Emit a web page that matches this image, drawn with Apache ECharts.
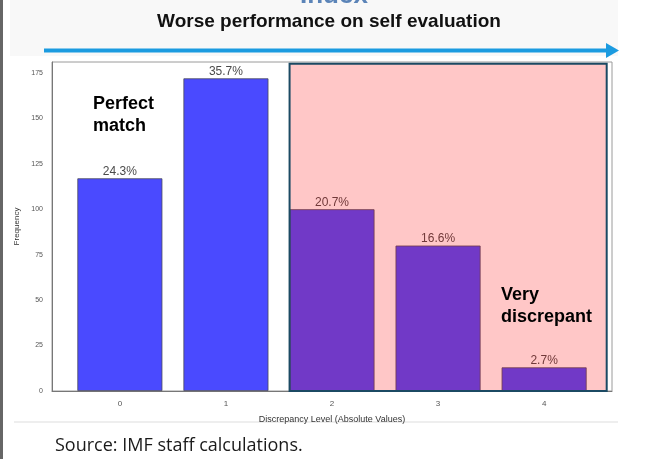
<!DOCTYPE html>
<html>
<head>
    <meta charset="utf-8">
    <title>Discrepancy</title>
    <script src="https://cdn.jsdelivr.net/npm/echarts@6/dist/echarts.min.js"></script>
</head>
<body>
<style>
    html, body, #main {
        width: 100%;
        height: 100%;
        padding: 0;
        margin: 0;
        background: #fff;
    }
</style>
<div id="main"></div>
<script type="text/javascript">

    // data
    var levels = [0, 1, 2, 3, 4];
    var frequency = [117, 172, 100, 80, 13];
    var shares = ['24.3%', '35.7%', '20.7%', '16.6%', '2.7%'];
    var yTicks = [0, 25, 50, 75, 100, 125, 150, 175];

    var myChart = echarts.init(document.getElementById('main'));

    var barData = levels.map(function (lv, i) {
        return {value: [lv, frequency[i]], label: {formatter: shares[i]}};
    });

    myChart.setOption({
        animation: false,
        grid: {
            left: 52, right: 46, top: 62, bottom: 68,
            show: true,
            borderColor: '#9a9a9a',
            borderWidth: 1
        },
        xAxis: {
            type: 'value',
            min: -0.64,
            max: 4.64,
            splitLine: {show: false},
            axisLine: {onZero: false, lineStyle: {color: '#777'}},
            axisTick: {show: false},
            axisLabel: {
                customValues: levels,
                color: '#555',
                fontSize: 8,
                fontFamily: 'Liberation Sans',
                margin: 9
            },
            name: 'Discrepancy Level (Absolute Values)',
            nameLocation: 'middle',
            nameGap: 24,
            nameTextStyle: {color: '#333', fontSize: 9, fontFamily: 'Liberation Sans'}
        },
        yAxis: {
            type: 'value',
            min: 0,
            max: 181,
            interval: 25,
            splitLine: {show: false},
            axisLine: {show: true, onZero: false, lineStyle: {color: '#777'}},
            axisTick: {show: false},
            axisLabel: {
                customValues: yTicks,
                color: '#555',
                fontSize: 7,
                fontFamily: 'Liberation Sans',
                margin: 9
            },
            name: 'Frequency',
            nameLocation: 'middle',
            nameGap: 25,
            nameTextStyle: {color: '#333', fontSize: 8, fontFamily: 'Liberation Sans'}
        },
        series: [
            {
                type: 'bar',
                data: barData,
                barWidth: 85,
                itemStyle: {
                    color: '#4a4aff',
                    borderColor: '#4a4a5a',
                    borderWidth: 0.8
                },
                label: {
                    show: true,
                    position: 'top',
                    distance: 1,
                    color: '#4a4a4a',
                    fontSize: 12,
                    fontFamily: 'Liberation Sans'
                }
            },
            {
                // red veil over the discrepant levels
                type: 'line',
                data: [],
                z: 10,
                markArea: {
                    silent: true,
                    z: 10,
                    itemStyle: {
                        color: 'rgba(255,0,0,0.22)',
                        borderColor: '#1b4a63',
                        borderWidth: 2
                    },
                    data: [[{coord: [1.6, 0]}, {coord: [4.59, 180]}]]
                }
            }
        ],
        graphic: [
            {type: 'rect', shape: {x: 10, y: 0, width: 608, height: 56}, style: {fill: '#f8f8f8'}, z: -10},
            {type: 'rect', shape: {x: 0, y: 0, width: 3, height: 459}, style: {fill: '#666'}},
            {
                type: 'text', left: 300, top: -17,
                style: {text: 'Index', fill: '#5b84b8', font: 'bold 26px "Liberation Sans"'}
            },
            {
                type: 'text', x: 329, y: 22,
                style: {
                    text: 'Worse performance on self evaluation',
                    fill: '#111', font: 'bold 19px "Liberation Sans"',
                    align: 'center', verticalAlign: 'middle'
                }
            },
            {type: 'line', shape: {x1: 44, y1: 50.5, x2: 608, y2: 50.5}, style: {stroke: '#1b9be0', lineWidth: 4}},
            {type: 'polygon', shape: {points: [[606, 43], [619, 50.5], [606, 58]]}, style: {fill: '#1b9be0'}},
            {
                type: 'text', x: 93, y: 93,
                style: {text: 'Perfect\nmatch', fill: '#000', font: 'bold 18px "Liberation Sans"', lineHeight: 22}
            },
            {
                type: 'text', x: 501, y: 284,
                style: {text: 'Very\ndiscrepant', fill: '#000', font: 'bold 18px "Liberation Sans"', lineHeight: 22},
                z: 20
            },
            {type: 'rect', shape: {x: 14, y: 421.5, width: 604, height: 1}, style: {fill: '#dedede'}},
            {
                type: 'text', x: 55, y: 437,
                style: {text: 'Source: IMF staff calculations.', fill: '#1a1a1a', font: '18px "Open Sans"'}
            }
        ]
    });

</script>
</body>
</html>
